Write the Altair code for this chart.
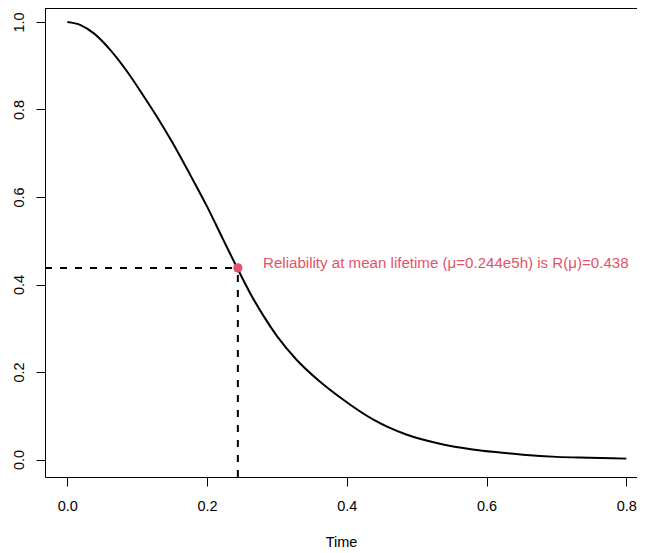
import altair as alt
import pandas as pd

# Reliability curve
time_vals = [0.000, 0.019, 0.038, 0.061, 0.085, 0.109, 0.130, 0.152, 0.176, 0.200,
             0.222, 0.243, 0.262, 0.280, 0.300, 0.328, 0.360, 0.392, 0.438, 0.485,
             0.533, 0.580, 0.619, 0.652, 0.700, 0.747, 0.800]
rel_vals = [1.000, 0.993, 0.974, 0.937, 0.888, 0.831, 0.779, 0.720, 0.650, 0.578,
            0.506, 0.438, 0.379, 0.330, 0.282, 0.228, 0.180, 0.140, 0.091, 0.057,
            0.036, 0.023, 0.016, 0.011, 0.006, 0.004, 0.002]

mean_life = [0.244]
rel_at_mean = [0.438]
label_text = ["Reliability at mean lifetime (\u03bc=0.244e5h) is R(\u03bc)=0.438"]
x_ticks = [0.0, 0.2, 0.4, 0.6, 0.8]
y_ticks = [0.0, 0.2, 0.4, 0.6, 0.8, 1.0]

W = 592
H = 469
X_DOM = [-0.032, -0.032 + W / 698.75]
Y_DOM = [-0.04, 1.032]
RED = "#DF536B"
FONT = "Liberation Sans"

curve_df = pd.DataFrame({"t": time_vals, "R": rel_vals})
pt_df = pd.DataFrame({"t": mean_life, "R": rel_at_mean, "x0": [X_DOM[0]], "y0": [Y_DOM[0]],
                      "lab": label_text, "tl": [0.2800], "yl": [0.449]})

xs = alt.Scale(domain=X_DOM, nice=False, zero=False)
ys = alt.Scale(domain=Y_DOM, nice=False, zero=False)

x_axis = alt.Axis(values=x_ticks, format=".1f", title="Time", grid=False,
                  domainColor="black", domainWidth=1, tickColor="black", tickWidth=1,
                  tickSize=9, labelFont=FONT, labelFontSize=14.5, labelColor="black",
                  labelBaseline="alphabetic", labelPadding=24, labelFlush=False,
                  titleFont=FONT, titleFontSize=14.5, titleFontWeight="normal",
                  titleColor="black", titleBaseline="alphabetic", titleY=69)
y_axis = alt.Axis(values=y_ticks, format=".1f", title=None, grid=False,
                  domainColor="black", domainWidth=1, tickColor="black", tickWidth=1,
                  tickSize=9, labelFont=FONT, labelFontSize=14.5, labelColor="black",
                  labelAngle=270, labelAlign="center", labelBaseline="alphabetic",
                  labelPadding=13, labelFlush=False)

curve = alt.Chart(curve_df).mark_line(color="black", strokeWidth=2, interpolate="monotone").encode(
    x=alt.X("t:Q", scale=xs, axis=x_axis),
    y=alt.Y("R:Q", scale=ys, axis=y_axis),
)

hline = alt.Chart(pt_df).mark_rule(color="black", strokeWidth=2, strokeDash=[7, 8]).encode(
    x=alt.X("x0:Q", scale=xs), x2="t:Q", y=alt.Y("R:Q", scale=ys)
)
vline = alt.Chart(pt_df).mark_rule(color="black", strokeWidth=2, strokeDash=[7, 8]).encode(
    x=alt.X("t:Q", scale=xs), y=alt.Y("y0:Q", scale=ys), y2="R:Q"
)
point = alt.Chart(pt_df).mark_circle(color=RED, size=85, opacity=1).encode(
    x=alt.X("t:Q", scale=xs), y=alt.Y("R:Q", scale=ys)
)
text = alt.Chart(pt_df).mark_text(color=RED, font=FONT, fontSize=15.1, align="left",
                                  baseline="middle").encode(
    x=alt.X("tl:Q", scale=xs), y=alt.Y("yl:Q", scale=ys), text="lab:N"
)
top_line = alt.Chart(pd.DataFrame({"a": [0]})).mark_rule(color="black", strokeWidth=1).encode(
    x=alt.value(0), x2=alt.value(W), y=alt.value(0.5)
)

chart = alt.layer(curve, hline, vline, point, text, top_line).properties(
    width=W, height=H,
    autosize=alt.AutoSizeParams(type="none"),
    padding={"left": 37, "top": 0, "right": 0, "bottom": 76},
).configure_view(stroke=None)

chart.save("out.html", embed_options={"renderer": "svg", "actions": False})
